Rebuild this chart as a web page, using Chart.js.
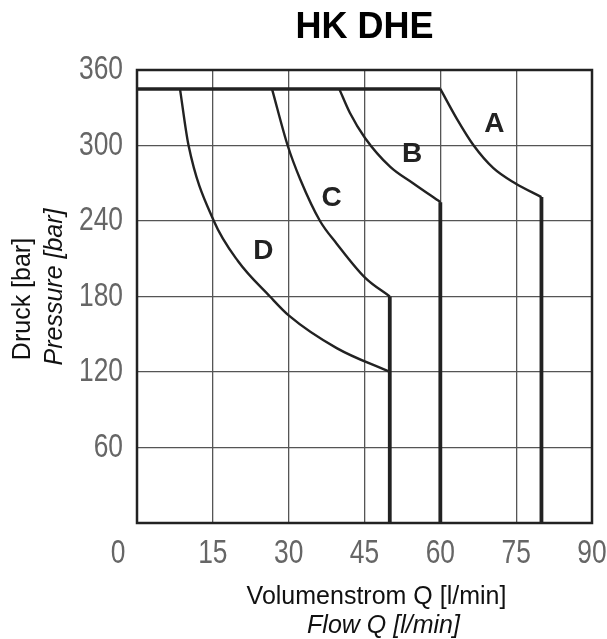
<!DOCTYPE html>
<html>
<head>
<meta charset="utf-8">
<script src="https://cdn.jsdelivr.net/npm/chart.js@4/dist/chart.umd.min.js"></script>
<style>
  body { margin: 0; background: #fff; }
</style>
</head>
<body>
<canvas id="chart" width="607" height="639"></canvas>
<script>
// axis ranges / tick step
const xMin = 0, xMax = 90, xStep = 15;
const yMin = 0, yMax = 360, yStep = 60;

// max pressure line (Q 0..60)
const topQ = [0, 60];
const topP = [345, 345];

// characteristic curves
const curveAQ = [60, 63.3, 66.6, 70.5, 74.8, 80];
const curveAP = [345, 321, 300, 282, 270, 259];
const curveBQ = [40, 42.1, 45.1, 50.1, 54.6, 60];
const curveBP = [345, 326, 306, 283, 270, 255];
const curveCQ = [26.7, 29.8, 32.3, 36.2, 39.5, 45.1, 50];
const curveCP = [345, 300, 273, 240, 222, 195, 180];
const curveDQ = [8.5, 10.2, 15.2, 20, 26.3, 30, 39.5, 50];
const curveDP = [345, 300, 240, 208, 180, 165, 139, 120];

// vertical limits (Q fixed, down to 0 bar)
const dropQ = [50, 60, 80];
const dropP = [180, 255, 259];

// curve letters
const curveNames = ['A', 'B', 'C', 'D'];
const nameQ = [70.7, 54.4, 38.5, 25];
const nameP = [317, 293, 258, 216];

const textFont = '"Liberation Sans", Arial, sans-serif';
const tickFont = '33px ' + textFont;

function toPoints(qs, ps) {
  return qs.map((q, i) => ({ x: q, y: ps[i] }));
}

const datasets = [];
datasets.push({ data: toPoints(topQ, topP), borderWidth: 3.5 });
[[curveAQ, curveAP], [curveBQ, curveBP], [curveCQ, curveCP], [curveDQ, curveDP]].forEach(c => {
  datasets.push({ data: toPoints(c[0], c[1]), borderWidth: 2.4, cubicInterpolationMode: 'monotone' });
});
for (var i = 0; i < dropQ.length; i++) {
  datasets.push({ data: toPoints([dropQ[i], dropQ[i]], [dropP[i], 0]), borderWidth: 3.8 });
}
datasets.forEach(d => {
  d.borderColor = '#222';
  d.pointRadius = 0;
  d.fill = false;
});

// narrow tick label, like the drawing's DIN-style digits
function tickText(ctx, text, x, y, align) {
  ctx.save();
  ctx.translate(x, y);
  ctx.scale(0.8, 1);
  ctx.textAlign = align;
  ctx.fillText(text, 0, 0);
  ctx.restore();
}

const decor = {
  id: 'decor',
  afterDraw(chart) {
    const ctx = chart.ctx;
    const a = chart.chartArea;
    const xs = chart.scales.x, ys = chart.scales.y;
    ctx.save();

    // frame
    ctx.strokeStyle = '#222';
    ctx.lineWidth = 2.5;
    ctx.strokeRect(a.left, a.top, a.right - a.left, a.bottom - a.top);

    ctx.textAlign = 'center';
    ctx.textBaseline = 'middle';

    // tick labels
    ctx.fillStyle = '#666';
    ctx.font = tickFont;
    xs.ticks.forEach(t => {
      var px = t.value === 0 ? a.left - 19 : xs.getPixelForValue(t.value);
      tickText(ctx, String(t.value), px, a.bottom + 31, 'center');
    });
    ys.ticks.forEach(t => {
      if (t.value === 0) return;
      tickText(ctx, String(t.value), a.left - 14, ys.getPixelForValue(t.value), 'right');
    });

    // title
    ctx.fillStyle = '#000';
    ctx.font = 'bold 36px ' + textFont;
    ctx.fillText('HK DHE', (a.left + a.right) / 2, 28);

    // curve letters
    ctx.fillStyle = '#222';
    ctx.font = 'bold 28px ' + textFont;
    for (var i = 0; i < curveNames.length; i++) {
      ctx.fillText(curveNames[i], xs.getPixelForValue(nameQ[i]), ys.getPixelForValue(nameP[i]));
    }

    // x axis title
    const cx = (a.left + a.right) / 2 + 12;
    ctx.fillStyle = '#111';
    ctx.font = '25px ' + textFont;
    ctx.fillText('Volumenstrom Q [l/min]', cx, a.bottom + 74);
    ctx.font = 'italic 25px ' + textFont;
    ctx.fillText('Flow Q [l/min]', cx + 7, a.bottom + 103);

    // y axis title
    ctx.save();
    ctx.translate(23, 299);
    ctx.rotate(-Math.PI / 2);
    ctx.font = '25px ' + textFont;
    ctx.fillText('Druck [bar]', 0, 0);
    ctx.restore();
    ctx.save();
    ctx.translate(55, 287);
    ctx.rotate(-Math.PI / 2);
    ctx.font = 'italic 25px ' + textFont;
    ctx.fillText('Pressure [bar]', 0, 0);
    ctx.restore();

    ctx.restore();
  }
};

new Chart(document.getElementById('chart'), {
  type: 'line',
  data: { datasets: datasets },
  options: {
    responsive: false,
    animation: false,
    layout: { padding: { top: 70, right: 15, left: 0, bottom: 0 } },
    plugins: {
      legend: { display: false },
      tooltip: { enabled: false }
    },
    scales: {
      x: {
        type: 'linear',
        min: xMin,
        max: xMax,
        afterFit: s => { s.height = 116; },
        grid: { color: '#555', lineWidth: 1.3, drawTicks: false },
        border: { display: false },
        ticks: { stepSize: xStep, display: false }
      },
      y: {
        type: 'linear',
        min: yMin,
        max: yMax,
        afterFit: s => { s.width = 137; },
        grid: { color: '#555', lineWidth: 1.3, drawTicks: false },
        border: { display: false },
        ticks: { stepSize: yStep, display: false }
      }
    }
  },
  plugins: [decor]
});
</script>
</body>
</html>
